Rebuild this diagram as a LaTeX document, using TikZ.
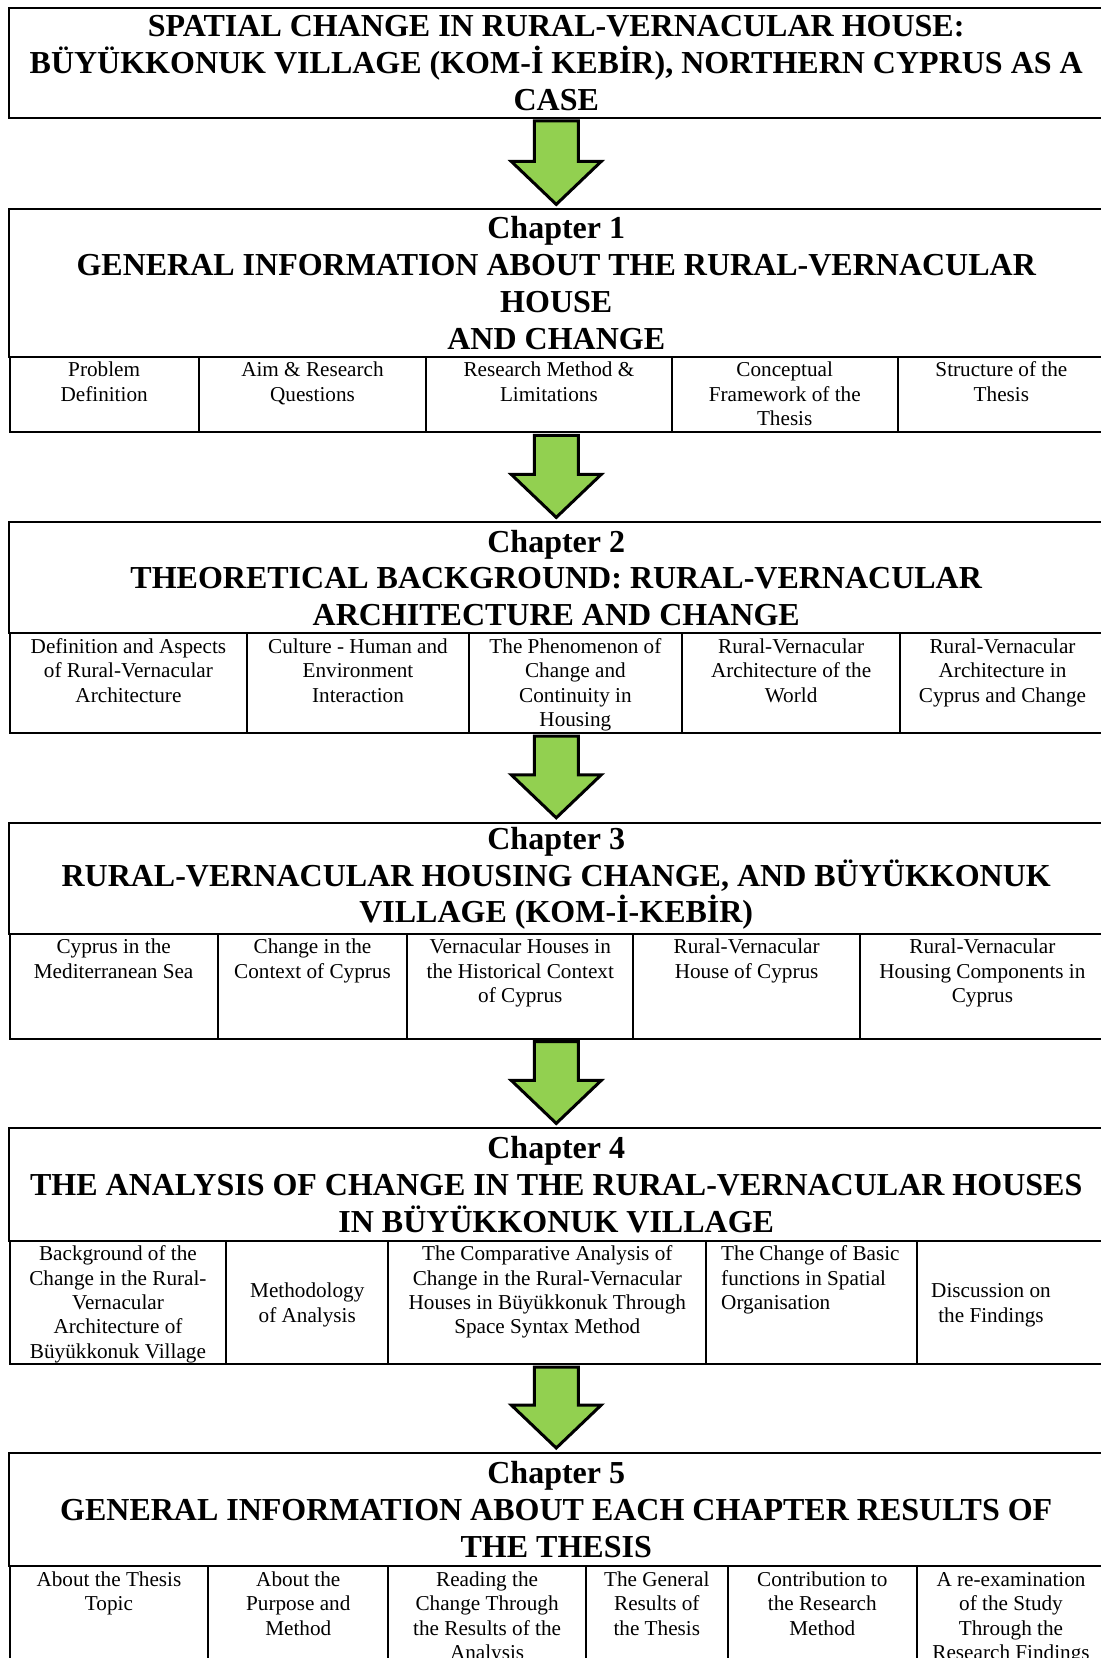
\documentclass[tikz,border=0pt]{standalone}
\usepackage{fontspec}
\setmainfont{Liberation Serif}
\usetikzlibrary{calc}

\definecolor{arrowgreen}{HTML}{92D050}

\newcommand\cell[7][t]{%
  \node[cellbox] (#2) at (#3,#4) {\parbox[t][#6pt][#1]{#5pt}{\centering\rule{0pt}{10pt}#7}};
}
\newcommand\chaparrow[2]{%
  \draw[arrowbox] let \p1=(#1), \p2=(#2) in
    (\x1-11pt,\y1-1pt) -- (\x1+11pt,\y1-1pt) -- (\x1+11pt,\y2+23.5pt)
    -- (\x1+22.5pt,\y2+23.5pt) -- (\x1,\y2+2pt) -- (\x1-22.5pt,\y2+23.5pt)
    -- (\x1-11pt,\y2+23.5pt) -- cycle;
}

\begin{document}
\begin{tikzpicture}[x=1pt,y=-1pt,
    headbox/.style={draw, line width=1pt, anchor=north, inner sep=0pt,
      minimum width=547.75pt, align=center,
      font=\fontsize{16}{18.4}\selectfont\bfseries},
    cellbox/.style={draw, line width=1pt, anchor=north west, inner sep=0pt,
      font=\fontsize{10.6}{12.2}\selectfont},
    arrowbox/.style={draw, line width=1.5pt, fill=arrowgreen, line join=miter}]
  \def\cx{278.125}
  \useasboundingbox (0,0) rectangle (550.5,829);

  % TITLE
  \node[headbox, minimum height=55pt] (title) at (\cx,3.5)
    {SPATIAL CHANGE IN RURAL-VERNACULAR HOUSE:\\
     BÜYÜKKONUK VILLAGE (KOM-İ KEBİR), NORTHERN CYPRUS AS A\\CASE};

  % CHAPTER 1
  \node[headbox, minimum height=73.8pt] (ch1) at (\cx,104.2)
    {Chapter 1\\GENERAL INFORMATION ABOUT THE RURAL-VERNACULAR\\HOUSE\\AND CHANGE};
  \cell{c11}{4.25}{178}{94.65}{37.7}{Problem\\Definition}
  \cell{c12}{98.9}{178}{113.7}{37.7}{Aim \& Research\\Questions}
  \cell{c13}{212.6}{178}{122.7}{37.7}{Research Method \&\\Limitations}
  \cell{c14}{335.3}{178}{113.1}{37.7}{Conceptual\\Framework of the\\Thesis}
  \cell{c15}{448.4}{178}{103.6}{37.7}{Structure of the\\Thesis}

  % CHAPTER 2
  \node[headbox, minimum height=55.5pt] (ch2) at (\cx,260.7)
    {Chapter 2\\THEORETICAL BACKGROUND: RURAL-VERNACULAR\\ARCHITECTURE AND CHANGE};
  \cell{c21}{4.25}{316.2}{118.95}{49.8}{Definition and Aspects\\of Rural-Vernacular\\Architecture}
  \cell{c22}{123.2}{316.2}{110.6}{49.8}{Culture - Human and\\Environment\\Interaction}
  \cell{c23}{233.8}{316.2}{106.8}{49.8}{The Phenomenon of\\Change and\\Continuity in\\Housing}
  \cell{c24}{340.6}{316.2}{108.9}{49.8}{Rural-Vernacular\\Architecture of the\\World}
  \cell{c25}{449.5}{316.2}{102.5}{49.8}{Rural-Vernacular\\Architecture in\\Cyprus and Change}

  % CHAPTER 3
  \node[headbox, minimum height=55.5pt] (ch3) at (\cx,410.9)
    {Chapter 3\\RURAL-VERNACULAR HOUSING CHANGE, AND BÜYÜKKONUK\\VILLAGE (KOM-İ-KEBİR)};
  \cell{c31}{4.25}{466.4}{104.15}{52.4}{Cyprus in the\\Mediterranean Sea}
  \cell{c32}{108.4}{466.4}{94.7}{52.4}{Change in the\\Context of Cyprus}
  \cell{c33}{203.1}{466.4}{113.1}{52.4}{Vernacular Houses in\\the Historical Context\\of Cyprus}
  \cell{c34}{316.2}{466.4}{113.2}{52.4}{Rural-Vernacular\\House of Cyprus}
  \cell{c35}{429.4}{466.4}{122.6}{52.4}{Rural-Vernacular\\Housing Components in\\Cyprus}

  % CHAPTER 4
  \node[headbox, minimum height=56.1pt] (ch4) at (\cx,563.7)
    {Chapter 4\\THE ANALYSIS OF CHANGE IN THE RURAL-VERNACULAR HOUSES\\IN BÜYÜKKONUK VILLAGE};
  \cell{c41}{4.25}{619.8}{108.45}{61.8}{Background of the\\Change in the Rural-\\Vernacular\\Architecture of\\Büyükkonuk Village}
  \cell[c]{c42}{112.7}{619.8}{80.9}{61.8}{Methodology\\of Analysis}
  \cell{c43}{193.6}{619.8}{159.1}{61.8}{The Comparative Analysis of\\Change in the Rural-Vernacular\\Houses in Büyükkonuk Through\\Space Syntax Method}
  \cell{c44}{352.7}{619.8}{105.3}{61.8}{\raggedright\leftskip=7.4pt The Change of Basic\\functions in Spatial\\Organisation}
  \cell[c]{c45}{458}{619.8}{94}{61.8}{\rightskip=20pt plus 1fil Discussion on\\the Findings}

  % CHAPTER 5
  \node[headbox, minimum height=56.6pt] (ch5) at (\cx,726)
    {Chapter 5\\GENERAL INFORMATION ABOUT EACH CHAPTER RESULTS OF\\THE THESIS};
  \cell{c51}{4.25}{782.6}{99.45}{60}{About the Thesis\\Topic}
  \cell{c52}{103.7}{782.6}{89.9}{60}{About the\\Purpose and\\Method}
  \cell{c53}{193.6}{782.6}{98.9}{60}{Reading the\\Change Through\\the Results of the\\Analysis}
  \cell{c54}{292.5}{782.6}{70.8}{60}{The General\\Results of\\the Thesis}
  \cell{c55}{363.3}{782.6}{94.7}{60}{Contribution to\\the Research\\Method}
  \cell{c56}{458}{782.6}{94}{60}{A re-examination\\of the Study\\Through the\\Research Findings}

  % ARROWS
  \chaparrow{title.south}{ch1.north}
  \chaparrow{ch1 |- c11.south}{ch2.north}
  \chaparrow{ch2 |- c21.south}{ch3.north}
  \chaparrow{ch3 |- c31.south}{ch4.north}
  \chaparrow{ch4 |- c41.south}{ch5.north}
\end{tikzpicture}
\end{document}
